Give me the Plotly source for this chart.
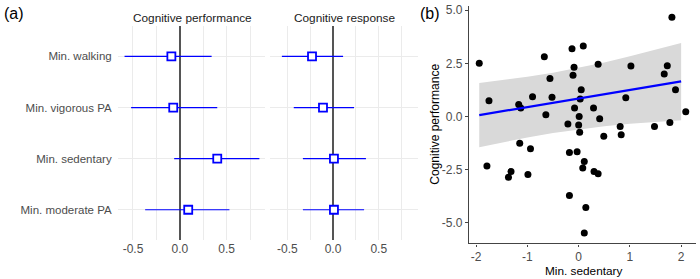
import plotly.graph_objects as go

W, H = 700, 279

# ---------------- Panel (a): forest plots ----------------
predictors = ["Min. walking", "Min. vigorous PA", "Min. sedentary", "Min. moderate PA"]

perf_est = [-0.09, -0.07, 0.40, 0.09]
perf_lo = [-0.59, -0.52, -0.06, -0.37]
perf_hi = [0.34, 0.40, 0.85, 0.53]

resp_est = [-0.23, -0.11, 0.01, 0.01]
resp_lo = [-0.56, -0.43, -0.33, -0.33]
resp_hi = [0.11, 0.23, 0.36, 0.34]

facet_titles = ["Cognitive performance", "Cognitive response"]
forest_ticks = [-0.5, 0.0, 0.5]
forest_ticktext = ["-0.5", "0.0", "0.5"]

# ---------------- Panel (b): scatter ----------------
sed_x = [-1.94, -1.75, -1.17, -1.13, -0.90, -0.67, -0.64, -0.56, -0.52, -0.21,
         -0.13, -0.11, -0.09, -0.08, 0.00, 0.01, 0.02, 0.03, 0.05, 0.09,
         0.29, 0.38, 0.41, 0.49, 0.81, 0.83, 0.92, 1.02, 1.48, 1.67,
         1.73, 1.78, 1.82, 1.89, 2.09,
         -1.79, -1.37, -1.32, -1.15, -0.94, -0.99, -0.18, -0.03, 0.11, 0.08,
         0.30, 0.38, -0.18, 0.14, 0.11]
perf_y = [2.50, 0.74, 0.56, 0.39, 0.93, 2.81, 0.08, 1.78, 0.90, -0.36,
          3.18, 1.94, 2.31, 0.39, -0.40, 0.00, -0.75, 0.82, 1.26, 3.32,
          0.39, 2.45, -0.11, -0.94, -0.48, -0.87, 0.88, 2.37, -0.48, 2.00,
          2.39, -0.29, 4.67, 1.26, 0.22,
          -2.34, -2.87, -2.60, -1.27, -1.52, -2.74, -1.70, -1.67, -2.12, -2.43,
          -2.59, -2.70, -3.73, -4.29, -5.49]

fit_x = [-1.94, -1.5, -1.0, -0.5, 0.0, 0.5, 1.0, 1.5, 2.0]
fit_y = [0.06, 0.24, 0.44, 0.64, 0.84, 1.04, 1.24, 1.44, 1.65]
fit_hi = [1.57, 1.70, 1.87, 2.06, 2.29, 2.54, 2.83, 3.13, 3.46]
fit_lo = [-1.45, -1.22, -0.99, -0.78, -0.61, -0.46, -0.35, -0.25, -0.18]

b_yticks = [-5.0, -2.5, 0.0, 2.5, 5.0]
b_ytext = ["-5.0", "-2.5", "0.0", "2.5", "5.0"]
b_xticks = [-2, -1, 0, 1, 2]
b_xtext = ["-2", "-1", "0", "1", "2"]

FONT = "Liberation Sans, Arial, sans-serif"
BLUE = "#0000ff"
GRID = "#ebebeb"
TXT = "#4d4d4d"

fig = go.Figure()


def forest(est, lo, hi, xa):
    fig.add_trace(go.Scatter(
        x=est, y=predictors, xaxis=xa, yaxis="y", mode="markers",
        marker=dict(symbol="square", size=8, color="white",
                    line=dict(color=BLUE, width=1.8)),
        error_x=dict(type="data", symmetric=False,
                     array=[h - e for h, e in zip(hi, est)],
                     arrayminus=[e - l for e, l in zip(est, lo)],
                     color=BLUE, thickness=1.2, width=0),
        showlegend=False, hoverinfo="skip"))


forest(perf_est, perf_lo, perf_hi, "x")
forest(resp_est, resp_lo, resp_hi, "x2")

# scatter panel
fig.add_trace(go.Scatter(x=fit_x + fit_x[::-1], y=fit_hi + fit_lo[::-1],
                         xaxis="x3", yaxis="y3", mode="lines", fill="toself",
                         fillcolor="#d9d9d9", line=dict(width=0),
                         showlegend=False, hoverinfo="skip"))
fig.add_trace(go.Scatter(x=sed_x, y=perf_y, xaxis="x3", yaxis="y3", mode="markers",
                         marker=dict(size=7, color="black"),
                         showlegend=False, hoverinfo="skip"))
fig.add_trace(go.Scatter(x=fit_x, y=fit_y, xaxis="x3", yaxis="y3", mode="lines",
                         line=dict(color=BLUE, width=2.2),
                         showlegend=False, hoverinfo="skip"))


def px_x(p):
    return p / W


def px_y(p):
    return 1 - p / H


forest_x_common = dict(
    tickvals=forest_ticks, ticktext=forest_ticktext,
    showgrid=True, gridcolor=GRID, gridwidth=1,
    minor=dict(dtick=0.25, tick0=0, showgrid=True, gridcolor=GRID, gridwidth=0.8),
    zeroline=True, zerolinecolor="#555555", zerolinewidth=1.8,
    showline=False, ticks="",
    tickfont=dict(size=12, color=TXT, family=FONT), anchor="y",
)

fig.update_layout(
    width=W, height=H, margin=dict(l=0, r=0, t=0, b=0),
    paper_bgcolor="white", plot_bgcolor="white",
    font=dict(family=FONT, color="black"),
    xaxis=dict(domain=[px_x(118), px_x(265)], range=[-0.66, 0.91], **forest_x_common),
    xaxis2=dict(domain=[px_x(270), px_x(418)], range=[-0.69, 0.93], **forest_x_common),
    yaxis=dict(domain=[px_y(240), px_y(23)], type="category",
               categoryarray=predictors, range=[3.6, -0.6],
               showgrid=True, gridcolor=GRID, gridwidth=1, zeroline=False,
               ticks="outside", ticklen=3, tickcolor="rgba(0,0,0,0)",
               tickfont=dict(size=11.5, color=TXT, family=FONT), anchor="x"),
    xaxis3=dict(domain=[px_x(469), px_x(696)], range=[-2.14, 2.29], anchor="y3",
                tickvals=b_xticks, ticktext=b_xtext, showgrid=False, zeroline=False,
                showline=True, linecolor="#444444", linewidth=1.3,
                ticks="outside", ticklen=2, tickcolor="#444444",
                tickfont=dict(size=12, color=TXT, family=FONT)),
    yaxis3=dict(domain=[px_y(243), px_y(3)], range=[-5.98, 5.2], anchor="x3",
                tickvals=b_yticks, ticktext=b_ytext, showgrid=False, zeroline=False,
                showline=True, linecolor="#444444", linewidth=1.3,
                ticks="outside", ticklen=3, tickcolor="#444444",
                tickfont=dict(size=12, color=TXT, family=FONT)),
)

ann = [
    dict(text="(a)", x=px_x(2), y=px_y(11), xanchor="left", yanchor="middle",
         font=dict(size=16, color="black")),
    dict(text="(b)", x=px_x(418), y=px_y(11), xanchor="left", yanchor="middle",
         font=dict(size=16, color="black")),
    dict(text=facet_titles[0], x=px_x(192), y=px_y(15), xanchor="center", yanchor="middle",
         font=dict(size=11.8, color="#1a1a1a")),
    dict(text=facet_titles[1], x=px_x(344), y=px_y(15), xanchor="center", yanchor="middle",
         font=dict(size=11.8, color="#1a1a1a")),
    dict(text="Cognitive performance", x=px_x(435), y=px_y(123), xanchor="center",
         yanchor="middle", textangle=-90, font=dict(size=12, color="black")),
    dict(text="Min. sedentary", x=px_x(583), y=px_y(271), xanchor="center",
         yanchor="middle", font=dict(size=11.8, color="black")),
]
for a in ann:
    a.update(xref="paper", yref="paper", showarrow=False)
fig.update_layout(annotations=ann)

fig.write_html("out.html")
